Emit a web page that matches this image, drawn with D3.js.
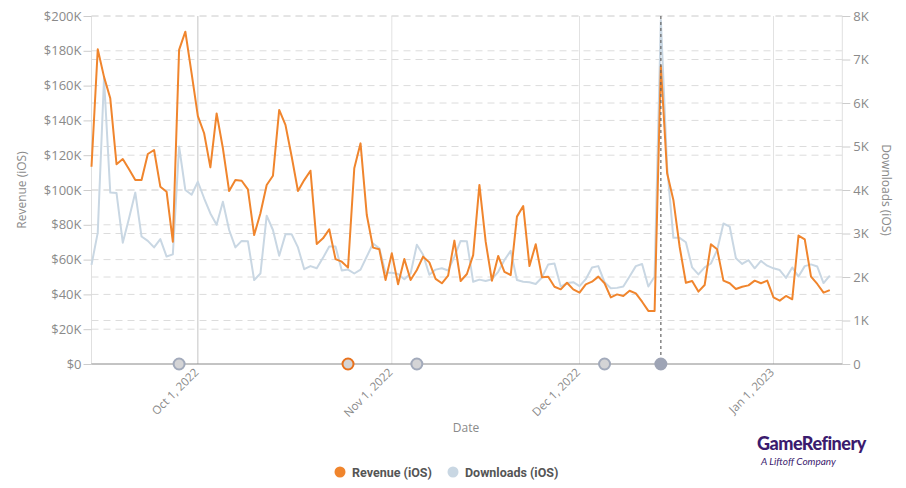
<!DOCTYPE html>
<html><head><meta charset="utf-8">
<script src="https://cdn.jsdelivr.net/npm/d3@7"></script>
<style>body{margin:0;background:#fff;}svg{display:block;font-family:"Open Sans",sans-serif;}</style>
</head><body><svg id="c" width="906" height="488"></svg>
<script>
const startDate = "2022-09-14";
const domainEnd = "2023-01-12";
const revenueK = [113.4,180.9,165,152.7,114.8,117.8,111.9,105.7,105.7,120.7,
123,101.9,99,70.3,180.5,191,167,142.5,132.6,113,
144,124,99.4,105.7,105.3,100.4,74.1,86.6,102.9,108.2,
146,137.4,119.1,99.4,105.7,111.1,69,72.2,77.4,60.3,
58.8,55.4,112.5,126.8,85.6,66.9,65.9,48.3,63.6,45.8,
60.3,48.3,54,61.7,58.4,48.9,46.4,50.8,70.9,47.7,
51.7,62.6,102.9,70.3,47.9,62.1,53,51.1,84.7,90.8,
56.3,68.8,49.8,50.2,44.4,42.9,46.7,42.9,41,45.8,
47.3,50.2,46.4,38.3,40,39.1,42.1,40.6,35.8,30.5,
30.5,171.3,109.6,94.3,67.4,46.7,47.7,41.6,45.4,68.8,
65.9,47.9,46.4,43.1,44.4,45.2,47.9,46.4,47.9,38.3,
36.4,39.1,37.2,73.8,71.6,50.2,46,41,42.5];
const downloadsK = [2.28,3.02,6.57,3.94,3.93,2.79,3.35,3.94,2.93,2.83,
2.68,2.87,2.47,2.52,5.0,4.0,3.89,4.19,3.81,3.46,
3.2,3.73,3.08,2.68,2.83,2.82,1.93,2.08,3.41,3.08,
2.49,2.98,2.98,2.68,2.18,2.25,2.2,2.44,2.7,2.7,
2.15,2.17,2.08,2.17,2.47,2.77,2.66,2.1,2.1,2.07,
1.95,2.08,2.74,2.51,2.05,2.17,2.2,2.15,2.47,2.83,
2.82,1.89,1.94,1.91,1.95,2.12,2.39,2.6,1.93,1.89,
1.88,1.84,1.99,2.29,2.31,1.78,1.86,1.88,1.79,1.95,
2.22,2.25,1.88,1.74,1.75,1.78,2.01,2.25,2.3,1.78,
2.01,7.91,4.54,2.9,2.9,2.8,2.22,2.06,2.22,2.31,
2.62,3.23,3.16,2.43,2.3,2.39,2.2,2.37,2.26,2.2,
2.16,1.98,2.22,2.01,2.25,2.29,2.24,1.86,2.03];
const eventDates = ["2022-09-28","2022-10-25","2022-11-05","2022-12-05","2022-12-14"];
const eventKinds = ["gray","orange","gray","gray","active"];
const xTickDates = ["2022-10-01","2022-11-01","2022-12-01","2023-01-01"];
const revTicks = [0,20000,40000,60000,80000,100000,120000,140000,160000,180000,200000];
const dlTicks = [0,1000,2000,3000,4000,5000,6000,7000,8000];
const seriesNames = ["Revenue (iOS)","Downloads (iOS)"];

const parse = d3.utcParse("%Y-%m-%d");
const t0 = parse(startDate);
const dates = revenueK.map((_, i) => d3.utcDay.offset(t0, i));
const rev = revenueK.map((v, i) => ({d: dates[i], v: v * 1000}));
const dl = downloadsK.map((v, i) => ({d: dates[i], v: v * 1000}));

const L = 91.5, R = 842.3, T = 16, B = 364;
const svg = d3.select("#c");
const x = d3.scaleUtc().domain([t0, parse(domainEnd)]).range([L, R]);
const yL = d3.scaleLinear().domain([0, 200000]).range([B, T]);
const yR = d3.scaleLinear().domain([0, 8000]).range([B, T]);

// dashed grids
const g = svg.append("g");
g.selectAll(".gl").data(revTicks.slice(1)).join("line")
  .attr("x1", L).attr("x2", R).attr("y1", d => yL(d)).attr("y2", d => yL(d))
  .attr("stroke", "#dcdcdc").attr("stroke-dasharray", "7,5");
g.selectAll(".gr").data(dlTicks.slice(1)).enter().append("line")
  .attr("x1", L).attr("x2", R).attr("y1", d => yR(d)).attr("y2", d => yR(d))
  .attr("stroke", "#dcdcdc").attr("stroke-dasharray", "7,5");
// vertical month lines
g.selectAll(".vx").data(xTickDates).enter().append("line")
  .attr("x1", d => x(parse(d))).attr("x2", d => x(parse(d)))
  .attr("y1", T).attr("y2", B)
  .attr("stroke", (d, i) => i === 0 ? "#c4c4c4" : "#e2e2e2");
// side axis lines
svg.append("line").attr("x1", L).attr("x2", L).attr("y1", T).attr("y2", B).attr("stroke", "#e0e0e0");
svg.append("line").attr("x1", R).attr("x2", R).attr("y1", T).attr("y2", B).attr("stroke", "#e0e0e0");

// left axis
const fmtRev = v => "$" + (v === 0 ? "0" : (v / 1000) + "K");
const ax = svg.append("g").attr("transform", `translate(${L},0)`)
  .call(d3.axisLeft(yL).tickValues(revTicks).tickFormat(fmtRev).tickSize(8).tickPadding(2));
ax.select(".domain").remove();
ax.selectAll("line").attr("stroke", "#ccc");
ax.selectAll("text").attr("fill", "#8a8a8a").style("font-size", "13px").style("font-family", "Open Sans");
const ar = svg.append("g").attr("transform", `translate(${R},0)`)
  .call(d3.axisRight(yR).tickValues(dlTicks).tickFormat(v => v === 0 ? "0" : (v / 1000) + "K").tickSize(8).tickPadding(3));
ar.select(".domain").remove();
ar.selectAll("line").attr("stroke", "#ccc");
ar.selectAll("text").attr("fill", "#8a8a8a").style("font-size", "13px").style("font-family", "Open Sans");

// x axis
const fmtX = d3.utcFormat("%b %-d, %Y");
const axb = svg.append("g").attr("transform", `translate(0,${B})`)
  .call(d3.axisBottom(x).tickValues(xTickDates.map(parse)).tickFormat(fmtX).tickSize(0).tickPadding(0));
axb.select(".domain").attr("stroke", "#888").attr("d", `M${L},0H${R}`);
axb.selectAll("text").attr("fill", "#8a8a8a").style("font-size", "11.5px").style("font-family", "Open Sans")
  .attr("text-anchor", "end").attr("dy", "0")
  .attr("transform", "translate(1,9) rotate(-45)");

// axis titles
svg.append("text").attr("transform", `translate(26,${(T + B) / 2}) rotate(-90)`).attr("text-anchor", "middle")
  .attr("fill", "#8a8a8a").style("font-size", "12px").text("Revenue (iOS)");
svg.append("text").attr("transform", `translate(882,${(T + B) / 2}) rotate(90)`).attr("text-anchor", "middle")
  .attr("fill", "#8a8a8a").style("font-size", "12px").text("Downloads (iOS)");
svg.append("text").attr("x", 466).attr("y", 432).attr("text-anchor", "middle")
  .attr("fill", "#8a8a8a").style("font-size", "12px").text("Date");

// lines
const lineL = d3.line().x(d => x(d.d)).y(d => yL(d.v));
const lineR = d3.line().x(d => x(d.d)).y(d => yR(d.v));
svg.append("path").datum(dl).attr("d", lineR).attr("fill", "none").attr("stroke", "#c9d7e3").attr("stroke-width", 2).attr("stroke-linejoin", "round");
svg.append("path").datum(rev).attr("d", lineL).attr("fill", "none").attr("stroke", "#f0852d").attr("stroke-width", 2).attr("stroke-linejoin", "round");

// event line + markers
const activeIdx = eventKinds.indexOf("active");
const ad = parse(eventDates[activeIdx]);
svg.append("line").attr("x1", x(ad)).attr("x2", x(ad)).attr("y1", T).attr("y2", B)
  .attr("stroke", "#666").attr("stroke-width", 1.2).attr("stroke-dasharray", "3,3");
svg.selectAll(".ev").data(eventDates).enter().append("circle")
  .attr("cx", d => x(parse(d))).attr("cy", B).attr("r", 5.5)
  .attr("fill", (d, i) => eventKinds[i] === "active" ? "#9ea4b5" : "#d4d4d6")
  .attr("stroke", (d, i) => eventKinds[i] === "orange" ? "#e8711c" : (eventKinds[i] === "active" ? "#9ea4b5" : "#a2aabb"))
  .attr("stroke-width", 2);

// legend
const legColors = ["#f0852d", "#c9d7e3"];
const legX = [340, 453];
seriesNames.forEach((n, i) => {
  svg.append("circle").attr("cx", legX[i]).attr("cy", 472).attr("r", 5.5).attr("fill", legColors[i]);
  svg.append("text").attr("x", legX[i] + 12).attr("y", 476.5).attr("fill", "#555")
    .style("font-family", "Roboto").style("font-weight", "700").style("font-size", "12.5px").text(n);
});

// logo
svg.append("text").attr("x", 757).attr("y", 450).attr("fill", "#3b1b6e")
  .style("font-family", "Lato").style("font-weight", "900").style("font-size", "18px").style("letter-spacing", "-0.5px").text("GameRefinery");
svg.append("text").attr("x", 761).attr("y", 465).attr("fill", "#3b1b6e")
  .style("font-family", "Lato").style("font-style", "italic").style("font-size", "10px").text("A Liftoff Company");
</script></body></html>
